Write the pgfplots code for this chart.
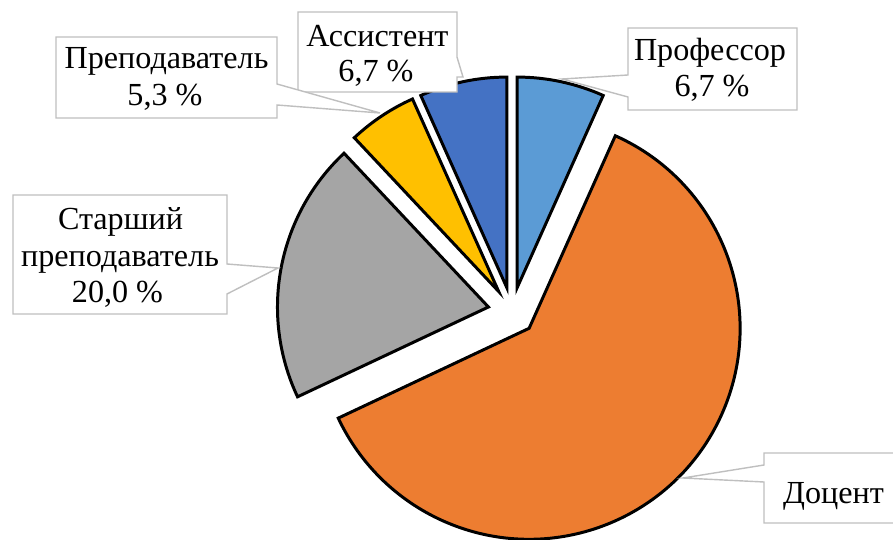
\documentclass[border=0pt]{standalone}
\usepackage{pgfplots}
\pgfplotsset{compat=1.18}
\usepackage{pgfplotstable}
\usepackage{fontspec}
\setmainfont{Liberation Serif}
\definecolor{cProf}{HTML}{5B9BD5}
\definecolor{cDoc}{HTML}{ED7D31}
\definecolor{cSt}{HTML}{A5A5A5}
\definecolor{cPr}{HTML}{FFC000}
\definecolor{cAs}{HTML}{4472C4}
\definecolor{cBox}{HTML}{BFBFBF}

% share of each category, percent (clockwise from 12 o'clock)
\pgfplotstableread[col sep=comma]{
name,value,color
Prof,6.7,cProf
Doc,61.3,cDoc
St,20.0,cSt
Pr,5.3,cPr
As,6.7,cAs
}\piedata

\newcommand{\lbl}{\fontsize{18.3}{22}\selectfont}

\begin{document}
\begin{tikzpicture}
\begin{axis}[
  x=0.02cm, y=0.02cm,
  xmin=0, xmax=893, ymin=0, ymax=540,
  y dir=reverse,
  hide axis, clip=false,
]
\pgfplotstablegetrowsof{\piedata}
\pgfmathtruncatemacro{\nrows}{\pgfplotsretval-1}
\def\cum{0}
\pgfplotsforeachungrouped \i in {0,...,\nrows}{%
  \pgfplotstablegetelem{\i}{value}\of\piedata \let\val\pgfplotsretval
  \pgfplotstablegetelem{\i}{color}\of\piedata \let\col\pgfplotsretval
  \pgfmathsetmacro{\aS}{90-3.6*\cum}%
  \pgfmathsetmacro{\aE}{90-3.6*(\cum+\val)}%
  \pgfmathsetmacro{\aM}{(\aS+\aE)/2}%
  \edef\slice{\noexpand\filldraw[fill=\col, draw=black, line width=1.7pt]
    (axis cs:512,311.5) ++(\aM:0.48cm) -- ++(\aS:4.22cm)
    arc[start angle=\aS, end angle=\aE, radius=4.22cm] -- cycle;}%
  \slice
  \pgfmathsetmacro{\cum}{\cum+\val}%
}
% callouts
\filldraw[fill=white, draw=cBox, line width=0.8pt]
  (axis cs:298,12) -- (axis cs:457,12) -- (axis cs:457,57) -- (axis cs:463,77)
  -- (axis cs:457,77) -- (axis cs:457,92) -- (axis cs:298,92) -- cycle;
\filldraw[fill=white, draw=cBox, line width=0.8pt]
  (axis cs:56,37) -- (axis cs:277,37) -- (axis cs:277,84) -- (axis cs:380,113)
  -- (axis cs:277,105) -- (axis cs:277,118) -- (axis cs:56,118) -- cycle;
\filldraw[fill=white, draw=cBox, line width=0.8pt]
  (axis cs:628,28) -- (axis cs:797,28) -- (axis cs:797,110) -- (axis cs:628,110)
  -- (axis cs:628,97) -- (axis cs:562,79) -- (axis cs:628,75) -- cycle;
\filldraw[fill=white, draw=cBox, line width=0.8pt]
  (axis cs:13,195) -- (axis cs:227,195) -- (axis cs:227,264) -- (axis cs:278,268)
  -- (axis cs:227,294) -- (axis cs:227,314) -- (axis cs:13,314) -- cycle;
\filldraw[fill=white, draw=cBox, line width=0.8pt]
  (axis cs:764,453) -- (axis cs:905,453) -- (axis cs:905,523) -- (axis cs:764,523)
  -- (axis cs:764,482) -- (axis cs:683,478) -- (axis cs:764,465) -- cycle;
% label texts
\node[anchor=base, font=\lbl] at (axis cs:377.5,47) {Ассистент};
\node[anchor=base, font=\lbl] at (axis cs:376,82) {6,7 \%};
\node[anchor=base, font=\lbl] at (axis cs:166.5,69) {Преподаватель};
\node[anchor=base, font=\lbl] at (axis cs:165,106) {5,3 \%};
\node[anchor=base, font=\lbl] at (axis cs:710,61) {Профессор};
\node[anchor=base, font=\lbl] at (axis cs:712,97) {6,7 \%};
\node[anchor=base, font=\lbl] at (axis cs:120.5,230) {Старший};
\node[anchor=base, font=\lbl] at (axis cs:120,267) {преподаватель};
\node[anchor=base, font=\lbl] at (axis cs:117.5,303) {20,0 \%};
\node[anchor=base, font=\lbl] at (axis cs:833.5,503) {Доцент};
\end{axis}
\pgfresetboundingbox
\useasboundingbox (current axis.south west) rectangle (current axis.north east);
\end{tikzpicture}
\end{document}
